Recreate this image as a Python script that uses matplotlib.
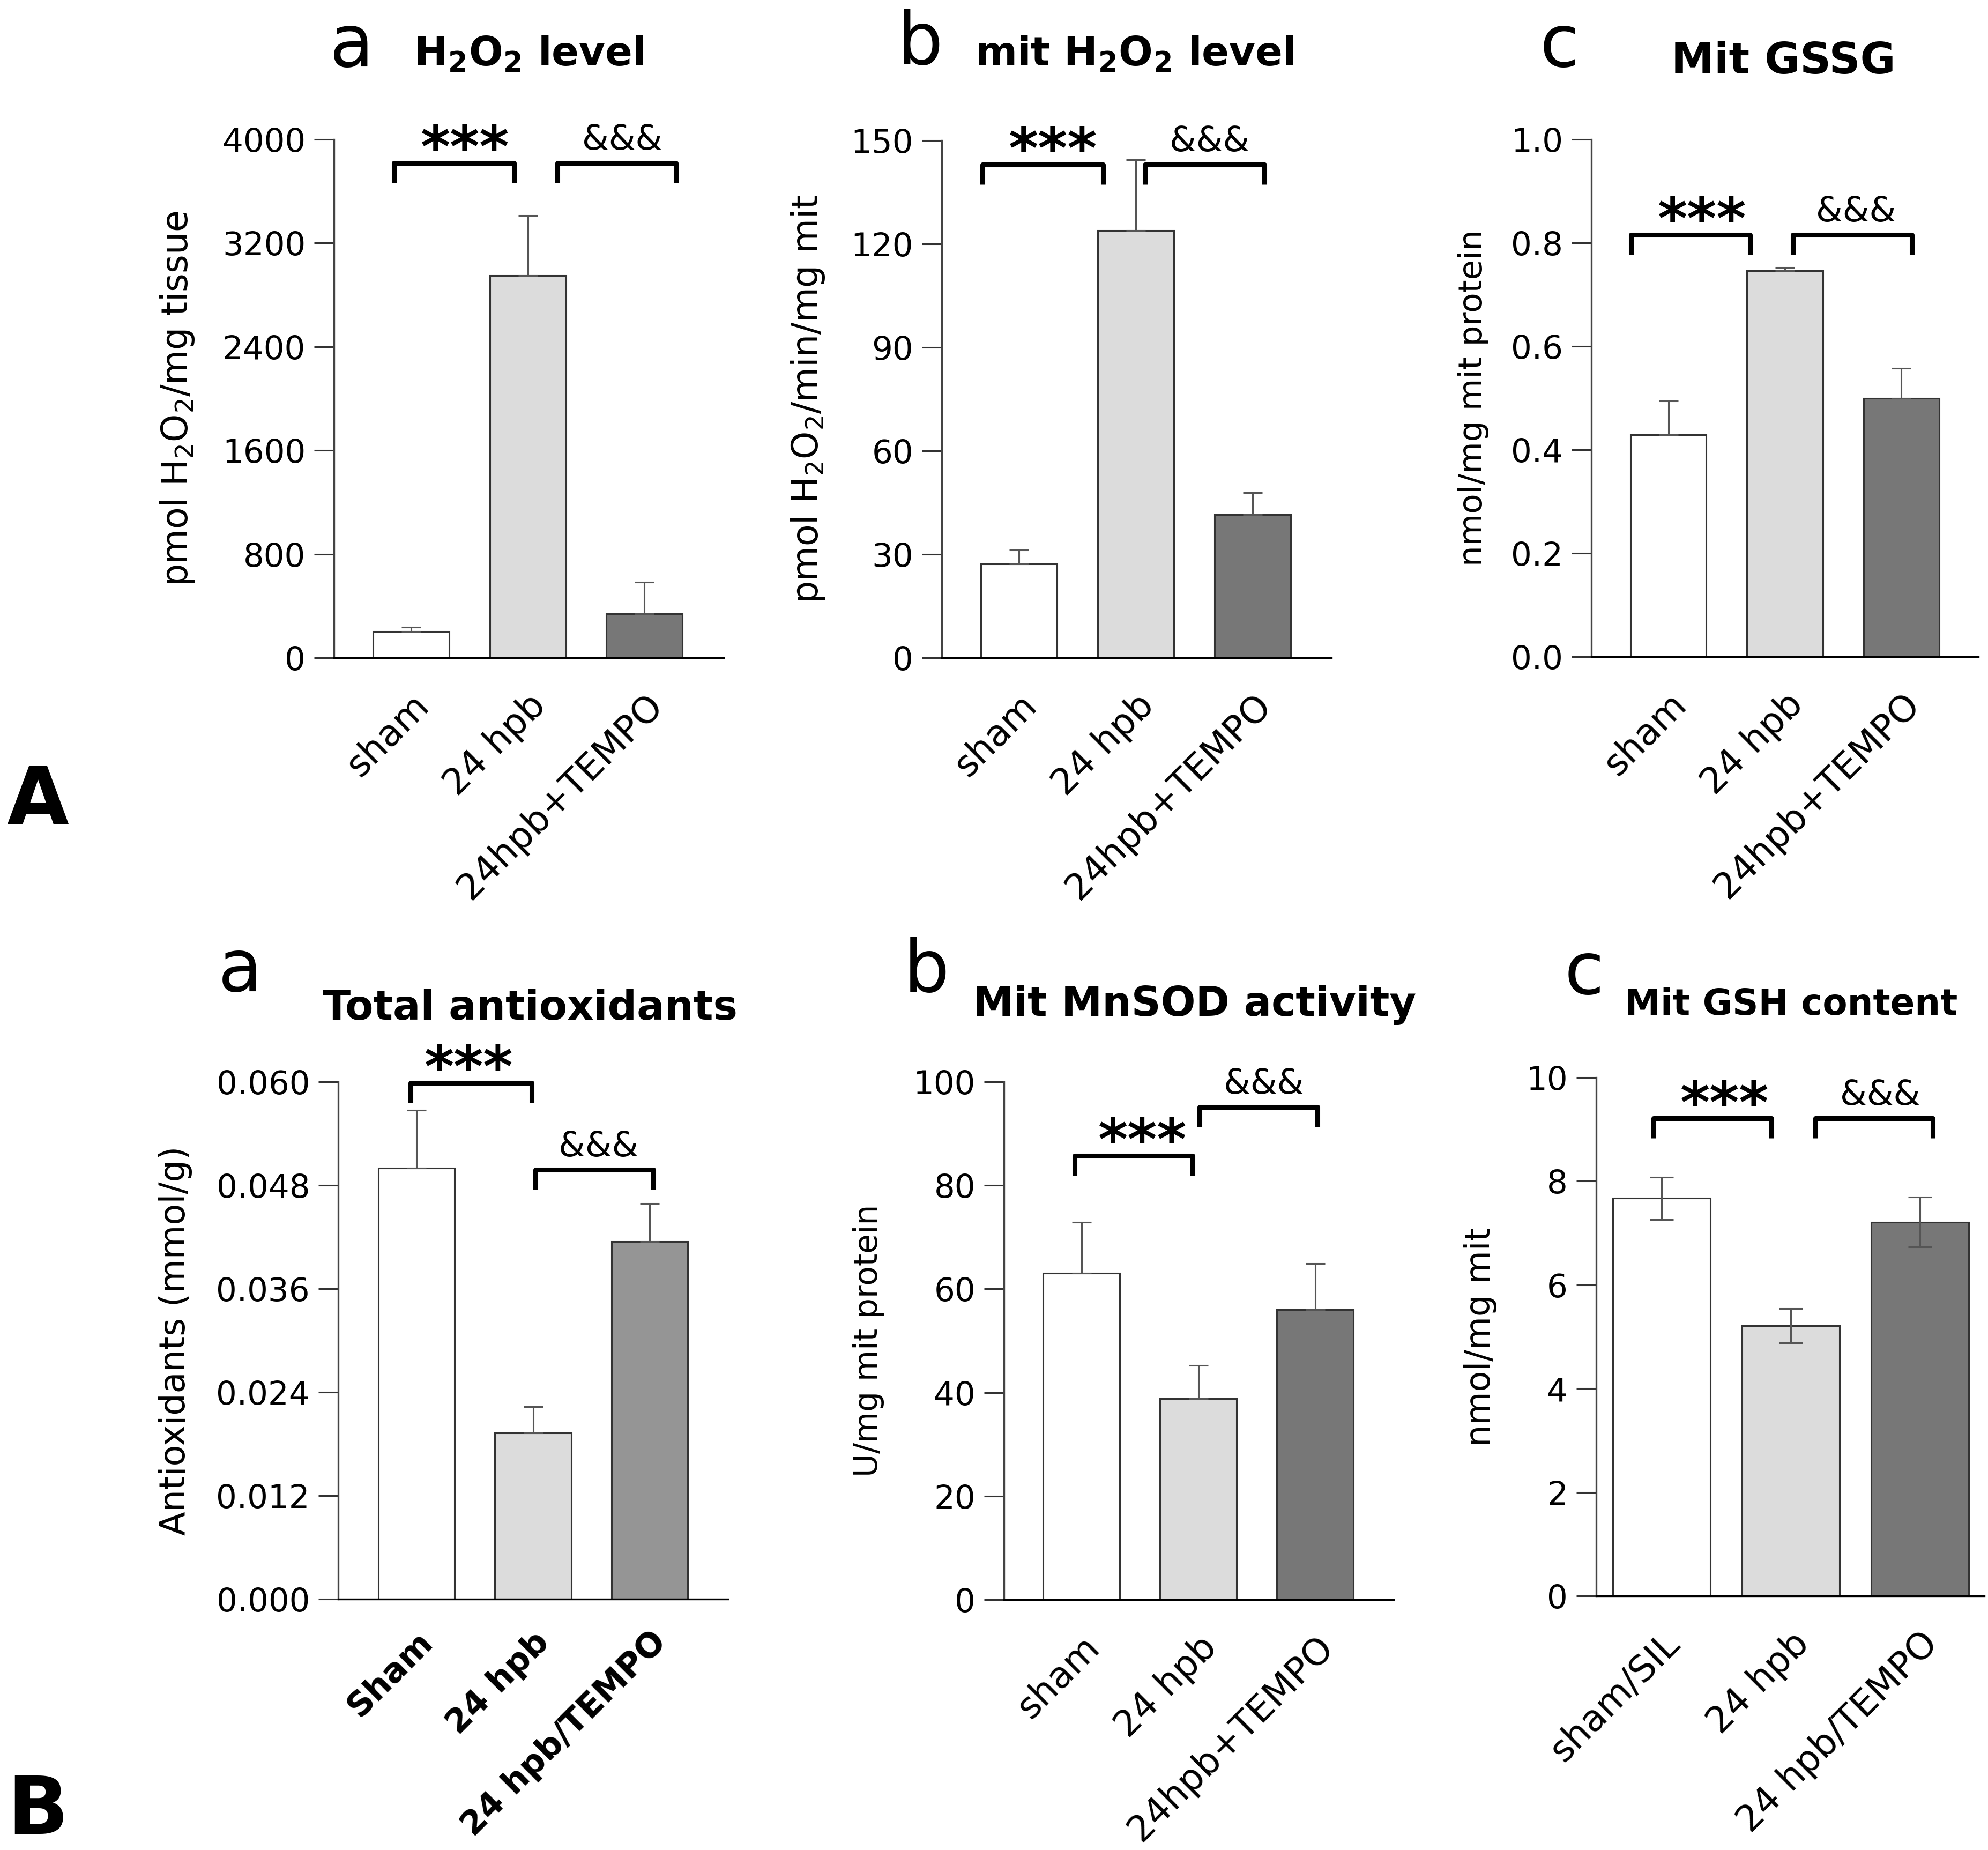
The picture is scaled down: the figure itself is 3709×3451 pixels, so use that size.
import numpy as np
import matplotlib
matplotlib.use('Agg')
import matplotlib.pyplot as plt
from matplotlib.transforms import ScaledTranslation

W, H = 3709, 3451
DPI = 100

# ---- data (mean, upper error) ----
groups_a = ['sham', '24 hpb', '24hpb+TEMPO']
groups_ba = ['Sham', '24 hpb', '24 hpb/TEMPO']
groups_bc = ['sham/SIL', '24 hpb', '24 hpb/TEMPO']

h2o2_mean = [202, 2950, 340]
h2o2_err = [33, 462, 242]
mit_h2o2_mean = [27.2, 123.9, 41.5]
mit_h2o2_err = [4.1, 20.5, 6.3]
gssg_mean = [0.429, 0.746, 0.499]
gssg_err = [0.065, 0.006, 0.059]
antiox_mean = [0.0500, 0.0193, 0.0415]
antiox_err = [0.0067, 0.0030, 0.0044]
mnsod_mean = [63.0, 38.8, 56.0]
mnsod_err = [9.9, 6.4, 8.9]
gsh_mean = [7.67, 5.21, 7.21]
gsh_err = [0.41, 0.33, 0.48]

WHITE, LIGHT, DARK, MID = 'white', '#dcdcdc', '#777777', '#959595'

fig = plt.figure(figsize=(W / DPI, H / DPI), dpi=DPI)


def add_axes_px(left, right, top, bottom):
    return fig.add_axes([left / W, 1 - bottom / H, (right - left) / W, (bottom - top) / H])


def bracket(ax, x0, x1, y, text, tx, px_unit, star):
    leg = 37 / px_unit
    ax.plot([x0, x0, x1, x1], [y - leg, y, y, y - leg], color='black', lw=6.5,
            solid_joinstyle='round', solid_capstyle='butt', clip_on=False, zorder=5)
    if star:
        fs = 76
        em = fs * DPI / 72
        ty = y + (36 - 0.40 * em) / px_unit
        ax.text(tx, ty, text, ha='center', va='baseline', fontsize=fs,
                fontweight='bold', clip_on=False)
    else:
        ty = y + 25 / px_unit
        ax.text(tx, ty, text, ha='center', va='baseline', fontsize=46, clip_on=False)


panels = [
    dict(rect=(623, 1350, 260, 1227), mean=h2o2_mean, err=h2o2_err, labels=groups_a,
         colors=[WHITE, LIGHT, DARK], ymax=4000, ystep=800, fmt='{:.0f}',
         ylabel='pmol H$_2$O$_2$/mg tissue', ylfs=48, ylx=331, xlim=(-0.661, 2.678),
         width=0.652, two_sided=False, boldx=False,
         brackets=[(-0.147, 0.882, 3820, '***', 0.46), (1.254, 2.270, 3820, '&&&', 1.81)],
         letter=('a', 615, 124), title=(r'H$_\mathbf{2}$O$_\mathbf{2}$ level', 772, 123, 54)),
    dict(rect=(1757, 2484, 262, 1227), mean=mit_h2o2_mean, err=mit_h2o2_err, labels=groups_a,
         colors=[WHITE, LIGHT, DARK], ymax=150, ystep=30, fmt='{:.0f}',
         ylabel='pmol H$_2$O$_2$/min/mg mit', ylfs=48, ylx=1507, xlim=(-0.66, 2.674),
         width=0.652, two_sided=False, boldx=False,
         brackets=[(-0.31, 0.72, 143.0, '***', 0.29), (1.08, 2.10, 143.0, '&&&', 1.63)],
         letter=('b', 1674, 120), title=(r'mit H$_\mathbf{2}$O$_\mathbf{2}$ level', 1819, 123, 54)),
    dict(rect=(2969, 3691, 260, 1225), mean=gssg_mean, err=gssg_err, labels=groups_a,
         colors=[WHITE, LIGHT, DARK], ymax=1.0, ystep=0.2, fmt='{:.1f}',
         ylabel='nmol/mg mit protein', ylfs=44, ylx=2748, xlim=(-0.66, 2.66),
         width=0.652, two_sided=False, boldx=False,
         brackets=[(-0.32, 0.70, 0.816, '***', 0.29), (1.07, 2.09, 0.816, '&&&', 1.61)],
         letter=('c', 2873, 124), title=('Mit GSSG', 3118, 137, 58)),
    dict(rect=(631, 1358, 2018, 2983), mean=antiox_mean, err=antiox_err, labels=groups_ba,
         colors=[WHITE, LIGHT, MID], ymax=0.060, ystep=0.012, fmt='{:.3f}',
         ylabel='Antioxidants (mmol/g)', ylfs=47, ylx=327, xlim=(-0.67, 2.67),
         width=0.655, two_sided=False, boldx=True,
         brackets=[(-0.05, 0.99, 0.0599, '***', 0.45), (1.02, 2.03, 0.0498, '&&&', 1.56)],
         letter=('a', 407, 1849), title=('Total antioxidants', 602, 1902, 55)),
    dict(rect=(1873, 2600, 2018, 2984), mean=mnsod_mean, err=mnsod_err, labels=groups_a,
         colors=[WHITE, LIGHT, DARK], ymax=100, ystep=20, fmt='{:.0f}',
         ylabel='U/mg mit protein', ylfs=43, ylx=1620, xlim=(-0.665, 2.67),
         width=0.656, two_sided=False, boldx=False,
         brackets=[(-0.06, 0.95, 85.7, '***', 0.52), (1.01, 2.02, 95.1, '&&&', 1.56)],
         letter=('b', 1686, 1850), title=('Mit MnSOD activity', 1815, 1895, 55)),
    dict(rect=(2978, 3702, 2010, 2977), mean=gsh_mean, err=gsh_err, labels=groups_bc,
         colors=[WHITE, LIGHT, DARK], ymax=10, ystep=2, fmt='{:.0f}',
         ylabel='nmol/mg mit', ylfs=46, ylx=2762, xlim=(-0.506, 2.498),
         width=0.755, two_sided=True, boldx=False,
         brackets=[(-0.06, 0.85, 9.21, '***', 0.49), (1.19, 2.10, 9.21, '&&&', 1.69)],
         letter=('c', 2919, 1854), title=('Mit GSH content', 3031, 1893, 48.5)),
]

for p in panels:
    left, right, top, bottom = p['rect']
    ax = add_axes_px(left, right, top, bottom)
    x = np.arange(3)
    ax.bar(x, p['mean'], width=p['width'], color=p['colors'], edgecolor='#333333',
           linewidth=2.2, zorder=2)
    lower = p['err'] if p['two_sided'] else [0, 0, 0]
    ax.errorbar(x, p['mean'], yerr=[lower, p['err']], fmt='none', ecolor='#555555',
                elinewidth=2.2, capsize=16 if p['two_sided'] else 13, capthick=2.2, zorder=3)

    ax.set_xlim(*p['xlim'])
    ax.set_ylim(0, p['ymax'])
    ticks = np.arange(0, p['ymax'] + p['ystep'] / 2, p['ystep'])
    ax.set_yticks(ticks)
    ax.set_yticklabels([p['fmt'].format(t) for t in ticks])
    ax.set_xticks(x)
    if p['boldx']:
        ax.set_xticklabels(p['labels'], rotation=45, ha='right', va='top',
                           rotation_mode='anchor', fontsize=45, fontweight='bold')
    else:
        ax.set_xticklabels(p['labels'], rotation=45, ha='right', va='top',
                           rotation_mode='anchor', fontsize=49)
    shift = ScaledTranslation(15 / DPI, 0, fig.dpi_scale_trans)
    for lab in ax.get_xticklabels():
        lab.set_transform(lab.get_transform() + shift)

    ax.tick_params(axis='y', length=26.6, width=2.2, color='#333333', pad=11.5, labelsize=44)
    ax.tick_params(axis='x', length=0, pad=36 if p['boldx'] else 40)
    for s in ('top', 'right'):
        ax.spines[s].set_visible(False)
    ax.spines['left'].set_color('#444444')
    ax.spines['left'].set_linewidth(2.4)
    ax.spines['bottom'].set_color('black')
    ax.spines['bottom'].set_linewidth(2.4)
    ax.patch.set_alpha(0)

    ax.set_ylabel(p['ylabel'], fontsize=p['ylfs'], va='center')
    ax.yaxis.set_label_coords((p['ylx'] - left) / (right - left), 0.5)

    px_unit = (bottom - top) / p['ymax']
    for x0, x1, y, txt, tx in p['brackets']:
        bracket(ax, x0, x1, y, txt, tx, px_unit, txt == '***')

    lt, lx, ly = p['letter']
    fig.text(lx / W, 1 - ly / H, lt, fontsize=97, ha='left', va='baseline')
    tt, tx, ty, tfs = p['title']
    fig.text(tx / W, 1 - ty / H, tt, fontsize=tfs, fontweight='bold', ha='left', va='baseline')

fig.text(12 / W, 1 - 1538 / H, 'A', fontsize=108, fontweight='bold', ha='left', va='baseline')
fig.text(13 / W, 1 - 3421 / H, 'B', fontsize=108, fontweight='bold', ha='left', va='baseline')

fig.savefig('out.png', dpi=DPI, facecolor='white')
